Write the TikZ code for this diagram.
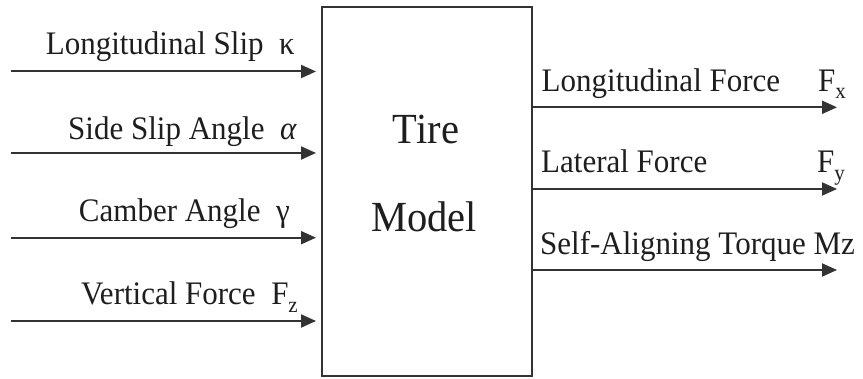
\documentclass[tikz,border=0pt]{standalone}
\usepackage{fontspec}
\usepackage{graphicx}
\setmainfont{Liberation Serif}
\usetikzlibrary{arrows.meta}
\definecolor{ink}{HTML}{333333}
\definecolor{txt}{HTML}{1E1E1E}
% slightly tall lettering
\newcommand\tall[1]{\scalebox{1}[1.06]{#1}}
\newcommand\sub[1]{\raisebox{-0.22em}{\fontsize{21}{24}\selectfont #1}}
\begin{document}
\begin{tikzpicture}[x=1pt,y=-1pt,
  lbl/.style={inner sep=0pt,text=txt,font=\fontsize{31}{36}\selectfont},
  big/.style={inner sep=0pt,text=txt,font=\fontsize{40.5}{46}\selectfont,anchor=base},
  flow/.style={draw=ink,line width=2pt,-{Triangle[length=15pt,width=13pt]}},
  blk/.style={draw=ink,line width=2pt,minimum width=210pt,minimum height=369pt,inner sep=0pt}]
\useasboundingbox (0,0) rectangle (863,379);

% the model block
\node[blk] (tm) at (427,191.5) {};
\node[big] (tire) at (426,143.3) {\tall{Tire}};
\node[big] (model) at (424,231.7) {\tall{Model}};

% inputs
\coordinate (i1) at (11,71.5);
\coordinate (i2) at (11,153);
\coordinate (i3) at (11,237.7);
\coordinate (i4) at (11,321);
\foreach \c in {i1,i2,i3,i4}
  \draw[flow,shorten >=5pt] (\c) -- (tm.west |- \c);

\node[lbl,anchor=base east] (l1) at (295,55) {\tall{Longitudinal Slip\ \ κ}};
\node[lbl,anchor=base east] (l2) at (297,139.5) {\tall{Side Slip Angle\ \ \textit{α}}};
\node[lbl,anchor=base east] (l3) at (290,222) {\tall{Camber Angle\ \ γ}};
\node[lbl,anchor=base east] (l4) at (298,305) {\tall{Vertical Force\ \ F\sub{z}}};

% outputs
\coordinate (o1) at (837,107.3);
\coordinate (o2) at (837,189);
\coordinate (o3) at (837,270);
\foreach \c in {o1,o2,o3}
  \draw[flow] (tm.east |- \c) -- (\c);

\node[lbl,anchor=base west] (r1) at (541.5,91.7) {\tall{Longitudinal Force}};
\node[lbl,anchor=base west] (r1s) at (818,91.7) {\tall{F\sub{x}}};
\node[lbl,anchor=base west] (r2) at (541,173) {\tall{Lateral Force}};
\node[lbl,anchor=base west] (r2s) at (817,173) {\tall{F\sub{y}}};
\node[lbl,anchor=base west] (r3) at (540,254.3) {\tall{Self-Aligning Torque Mz}};
\end{tikzpicture}
\end{document}
